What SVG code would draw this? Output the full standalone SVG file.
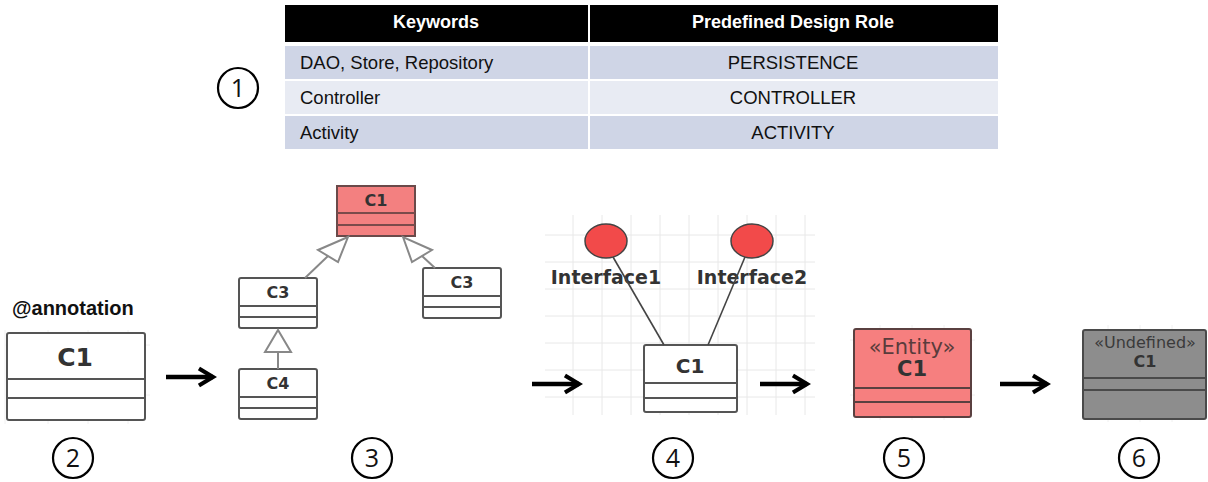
<svg xmlns="http://www.w3.org/2000/svg" width="1208" height="482" viewBox="0 0 1208 482">
  <defs>
    <style>
      .hdr { font-family: "Liberation Sans", Arial, sans-serif; font-size: 18px; font-weight: bold; fill: #ffffff; text-anchor: middle; }
      .cell { font-family: "Liberation Sans", Arial, sans-serif; font-size: 18.5px; fill: #111111; }
      .mid { text-anchor: middle; }
      .cls { fill: #ffffff; stroke: #555555; stroke-width: 2; }
      .cname { font-family: "DejaVu Sans", Verdana, sans-serif; font-weight: bold; fill: #333333; text-anchor: middle; }
      .sep { stroke: #555555; stroke-width: 2; }
      .num { fill: #ffffff; stroke: #000000; stroke-width: 2.2; }
      .numt { font-family: "Open Sans", "Liberation Sans", sans-serif; font-size: 25px; fill: #111111; text-anchor: middle; }
      .grid { stroke: #e8e8e8; stroke-width: 1; }
      .flow { stroke: #000000; stroke-width: 4.5; fill: none; stroke-linecap: butt; }
      .gen { stroke: #888888; stroke-width: 2; fill: none; }
      .tri { fill: #ffffff; stroke: #888888; stroke-width: 2; stroke-linejoin: miter; }
      .lolly { stroke: #444444; stroke-width: 1.6; }
    </style>
    <marker id="chev" viewBox="0 0 12 12" refX="10" refY="6" markerWidth="5" markerHeight="5" orient="auto" markerUnits="strokeWidth">
      <path d="M2.5,1.5 L10,6 L2.5,10.5" fill="none" stroke="#000000" stroke-width="2.2" stroke-linejoin="miter"/>
    </marker>
  </defs>

  <rect width="1208" height="482" fill="#ffffff"/>

  <!-- light grid behind the interface view -->
  <g id="grid4">
    <path class="grid" d="M545,235 H815 M545,262 H815 M545,289 H815 M545,316 H815 M545,343 H815 M545,370 H815 M545,397 H815"/>
    <path class="grid" d="M573,215 V415 M602,215 V415 M631,215 V415 M660,215 V415 M689,215 V415 M718,215 V415 M747,215 V415 M776,215 V415 M805,215 V415"/>
  </g>

  <!-- faint grid behind single classes -->
  <g id="grid-small" opacity="0.6">
    <path class="grid" d="M5,330 V424 M48,330 V424 M88,330 V424 M128,330 V424 M5,345 H150 M5,395 H150"/>
    <path class="grid" d="M880,325 V420 M912,325 V420 M944,325 V420 M850,340 H975 M850,395 H975"/>
    <path class="grid" d="M1108,325 V422 M1140,325 V422 M1172,325 V422"/>
  </g>

  <!-- keyword / role table -->
  <g id="table">
    <rect x="285" y="5" width="303" height="37" fill="#000000"/>
    <rect x="590" y="5" width="408" height="37" fill="#000000"/>
    <text class="hdr" x="436" y="28">Keywords</text>
    <text class="hdr" x="793" y="28">Predefined Design Role</text>

    <rect x="285" y="46" width="303" height="33" fill="#cfd5e6"/>
    <rect x="590" y="46" width="408" height="33" fill="#cfd5e6"/>
    <rect x="285" y="81" width="303" height="33" fill="#e8ebf3"/>
    <rect x="590" y="81" width="408" height="33" fill="#e8ebf3"/>
    <rect x="285" y="116" width="303" height="33" fill="#cfd5e6"/>
    <rect x="590" y="116" width="408" height="33" fill="#cfd5e6"/>

    <text class="cell" x="300" y="69">DAO, Store, Repository</text>
    <text class="cell mid" x="793" y="69">PERSISTENCE</text>
    <text class="cell" x="300" y="104">Controller</text>
    <text class="cell mid" x="793" y="104">CONTROLLER</text>
    <text class="cell" x="300" y="139">Activity</text>
    <text class="cell mid" x="793" y="139">ACTIVITY</text>
  </g>

  <!-- step markers -->
  <g id="step1"><circle class="num" cx="238" cy="88" r="20"/><text class="numt" x="238" y="97">1</text></g>
  <g id="step2"><circle class="num" cx="73" cy="458" r="20"/><text class="numt" x="73" y="467">2</text></g>
  <g id="step3"><circle class="num" cx="372" cy="458" r="20"/><text class="numt" x="372" y="467">3</text></g>
  <g id="step4"><circle class="num" cx="673" cy="458" r="20"/><text class="numt" x="673" y="467">4</text></g>
  <g id="step5"><circle class="num" cx="904" cy="458" r="20"/><text class="numt" x="904" y="467">5</text></g>
  <g id="step6"><circle class="num" cx="1139" cy="458" r="20"/><text class="numt" x="1139" y="467">6</text></g>

  <!-- annotated class -->
  <g id="annotated">
    <text x="12" y="315" font-family="Liberation Sans, Arial, sans-serif" font-size="20" font-weight="bold" fill="#111111">@annotation</text>
    <rect class="cls" x="7" y="333" width="138" height="87" rx="2"/>
    <line class="sep" x1="7" y1="379" x2="145" y2="379"/>
    <line class="sep" x1="7" y1="398" x2="145" y2="398"/>
    <text class="cname" x="75" y="366" font-size="25">C1</text>
  </g>

  <!-- inheritance hierarchy -->
  <g id="hier-c1">
    <rect x="337" y="186" width="78" height="50" fill="#f38080" stroke="#6a4a4a" stroke-width="2"/>
    <line x1="337" y1="213" x2="415" y2="213" stroke="#7a4a4a" stroke-width="2"/>
    <line x1="337" y1="225" x2="415" y2="225" stroke="#7a4a4a" stroke-width="2"/>
    <text class="cname" x="376" y="206" font-size="16">C1</text>
  </g>
  <g id="hier-c3a">
    <rect class="cls" x="239" y="278" width="78" height="50" rx="2"/>
    <line class="sep" x1="239" y1="306" x2="317" y2="306"/>
    <line class="sep" x1="239" y1="317" x2="317" y2="317"/>
    <text class="cname" x="278" y="298" font-size="16">C3</text>
  </g>
  <g id="hier-c3b">
    <rect class="cls" x="423" y="268" width="78" height="50" rx="2"/>
    <line class="sep" x1="423" y1="296" x2="501" y2="296"/>
    <line class="sep" x1="423" y1="307" x2="501" y2="307"/>
    <text class="cname" x="462" y="288" font-size="16">C3</text>
  </g>
  <g id="hier-c4">
    <rect class="cls" x="239" y="369" width="78" height="50" rx="2"/>
    <line class="sep" x1="239" y1="397" x2="317" y2="397"/>
    <line class="sep" x1="239" y1="408" x2="317" y2="408"/>
    <text class="cname" x="278" y="389" font-size="16">C4</text>
  </g>

  <!-- interface view -->
  <g id="iface1">
    <ellipse cx="606" cy="241" rx="21" ry="17" fill="#f24a4a" stroke="#444444" stroke-width="1.5"/>
    <text x="606" y="284" font-family="DejaVu Sans, Verdana, sans-serif" font-size="19" font-weight="bold" fill="#333333" text-anchor="middle">Interface1</text>
  </g>
  <g id="iface2">
    <ellipse cx="752" cy="241" rx="21" ry="17" fill="#f24a4a" stroke="#444444" stroke-width="1.5"/>
    <text x="752" y="284" font-family="DejaVu Sans, Verdana, sans-serif" font-size="19" font-weight="bold" fill="#333333" text-anchor="middle">Interface2</text>
  </g>
  <g id="iface-c1">
    <rect class="cls" x="644" y="345" width="93" height="67" rx="2"/>
    <line class="sep" x1="644" y1="383" x2="737" y2="383"/>
    <line class="sep" x1="644" y1="398" x2="737" y2="398"/>
    <text class="cname" x="690" y="373" font-size="20">C1</text>
  </g>

  <!-- entity class -->
  <g id="entity">
    <rect x="854" y="329" width="117" height="88" rx="2" fill="#f67f7f" stroke="#5a4040" stroke-width="2"/>
    <line x1="854" y1="388" x2="971" y2="388" stroke="#5a4040" stroke-width="2"/>
    <line x1="854" y1="402" x2="971" y2="402" stroke="#5a4040" stroke-width="2"/>
    <text x="912" y="354" font-family="DejaVu Sans, Verdana, sans-serif" font-size="21" fill="#5a3c3c" text-anchor="middle">«Entity»</text>
    <text class="cname" x="912" y="376" font-size="21" fill="#3a2a2a">C1</text>
  </g>

  <!-- undefined class -->
  <g id="undefined">
    <rect x="1083" y="330" width="123" height="89" rx="2" fill="#8d8d8d" stroke="#4a4a4a" stroke-width="2"/>
    <line x1="1083" y1="378" x2="1206" y2="378" stroke="#4a4a4a" stroke-width="2"/>
    <line x1="1083" y1="390" x2="1206" y2="390" stroke="#4a4a4a" stroke-width="2"/>
    <text x="1145" y="348" font-family="DejaVu Sans, Verdana, sans-serif" font-size="16" fill="#3a3a3a" text-anchor="middle">«Undefined»</text>
    <text class="cname" x="1145" y="367" font-size="16" fill="#2a2a2a">C1</text>
  </g>

  <!-- connectors -->
  <g id="connectors">
    <!-- generalization: C3 -> C1, C3 -> C1, C4 -> C3 -->
    <line class="gen" x1="305" y1="278" x2="328" y2="256"/>
    <polygon class="tri" points="348,237 318,250 338,262"/>
    <line class="gen" x1="435" y1="268" x2="422" y2="256"/>
    <polygon class="tri" points="403,237 412,262 432,250"/>
    <line class="gen" x1="278" y1="369" x2="278" y2="352"/>
    <polygon class="tri" points="278,330 265,352 291,352"/>

    <!-- interface lollipops -->
    <line class="lolly" x1="613" y1="257" x2="664" y2="345"/>
    <line class="lolly" x1="745" y1="257" x2="708" y2="345"/>

    <!-- flow arrows between steps -->
    <line class="flow" x1="166" y1="377" x2="213" y2="377" marker-end="url(#chev)"/>
    <line class="flow" x1="532" y1="384" x2="579" y2="384" marker-end="url(#chev)"/>
    <line class="flow" x1="760" y1="384" x2="807" y2="384" marker-end="url(#chev)"/>
    <line class="flow" x1="1000" y1="384" x2="1047" y2="384" marker-end="url(#chev)"/>
  </g>
</svg>
